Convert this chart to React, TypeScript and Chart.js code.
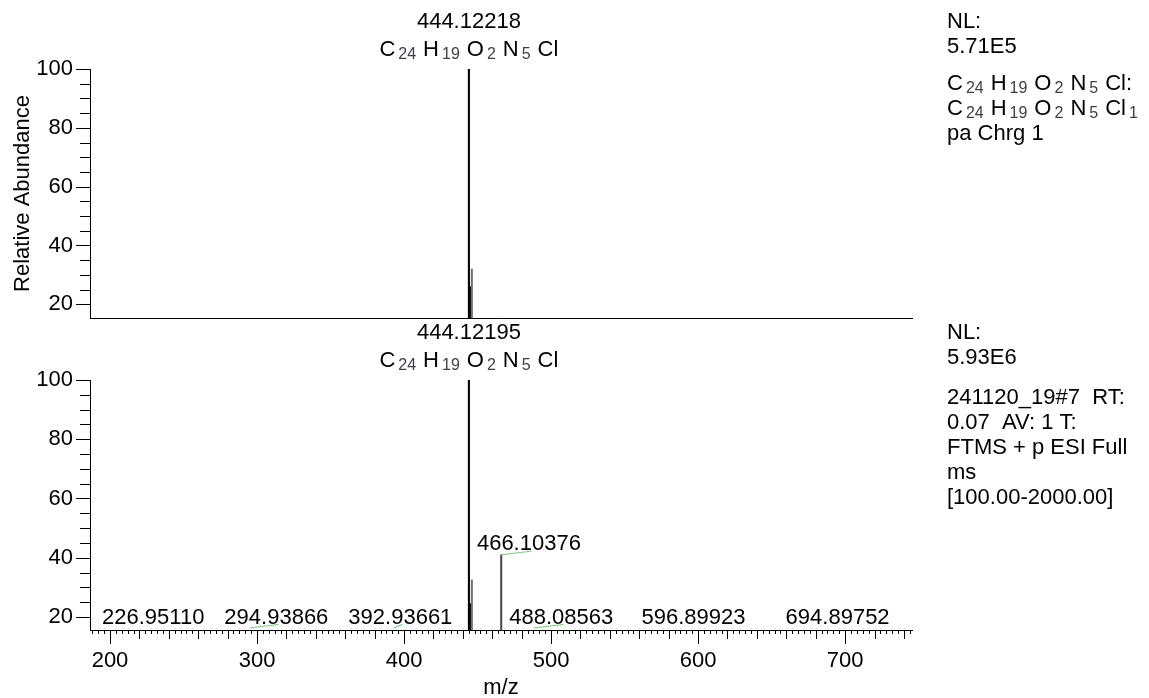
import React, { useEffect, useRef } from "react";
import { Chart, registerables } from "chart.js";

Chart.register(...registerables);

const W = 1149;
const H = 698;
const FONT = '"Liberation Sans", Arial, Helvetica, sans-serif';

// ---------------- data ----------------
const formula = "C24H19O2N5Cl";

// top panel: simulated isotope pattern of C24H19O2N5Cl
const topMz = [444.12218, 445.12554, 446.11923];
const topAbundance = [100, 26, 32];
const topBaseLabel = "444.12218";

// bottom panel: measured spectrum
const bottomMz = [226.9511, 294.93866, 392.93661, 444.12195, 445.1253, 446.119, 466.10376, 488.08563, 596.89923, 694.89752];
const bottomAbundance = [2.1, 2.4, 1.9, 100, 24.5, 32.5, 41, 2.8, 1.6, 1.3];
const bottomPeakLabels = ["226.95110", "294.93866", "392.93661", "", "", "", "466.10376", "488.08563", "596.89923", "694.89752"];
const bottomBaseLabel = "444.12195";

const xTickValues = [200, 300, 400, 500, 600, 700];
const yTickValues = [20, 40, 60, 80, 100];
const xRange = [186.4, 745.5];
const topYRange = [15.35, 100];
const bottomYRange = [15.6, 100];

type InfoLine = { text?: string; formula?: string; suffix?: string };
const topInfo: InfoLine[] = [
  { text: "NL:" },
  { text: "5.71E5" },
  { formula: "C24H19O2N5Cl", suffix: ":" },
  { formula: "C24H19O2N5Cl1" },
  { text: "pa Chrg 1" },
];
const bottomInfo: InfoLine[] = [
  { text: "NL:" },
  { text: "5.93E6" },
  { text: "241120_19#7  RT:" },
  { text: "0.07  AV: 1 T:" },
  { text: "FTMS + p ESI Full" },
  { text: "ms" },
  { text: "[100.00-2000.00]" },
];

// ---------------- styling / layout ----------------
const topColors = ["#000000", "#000000", "#707070"];
const bottomColors = ["#000", "#000", "#000", "#000000", "#000000", "#707070", "#4a4a4a", "#000", "#000", "#000"];
const topInfoBaselines = [28, 53, 90, 115, 140];
const bottomInfoBaselines = [339, 364, 404, 429, 454, 479, 504];
const INFO_X = 947;
const GREEN = "#7cc97c";

function parseFormula(f: string) {
  const parts: { el: string; n: string }[] = [];
  const re = /([A-Z][a-z]?)(\d*)/g;
  let m: RegExpExecArray | null;
  while ((m = re.exec(f)) !== null) {
    if (!m[0]) break;
    parts.push({ el: m[1], n: m[2] });
  }
  return parts;
}

function drawFormula(
  ctx: CanvasRenderingContext2D,
  f: string,
  x: number,
  baseline: number,
  align: "center" | "left",
  suffix = ""
) {
  const parts = parseFormula(f);
  const mainFont = `22px ${FONT}`;
  const subFont = `16px ${FONT}`;
  const SUB_GAP = 3;
  const GROUP_GAP = 7;
  const ws = parts.map((p) => {
    ctx.font = mainFont;
    const a = ctx.measureText(p.el).width;
    ctx.font = subFont;
    const b = p.n ? ctx.measureText(p.n).width : 0;
    return { a, b };
  });
  ctx.font = mainFont;
  const sw = suffix ? ctx.measureText(suffix).width : 0;
  let total = sw;
  ws.forEach((w, i) => {
    total += w.a + (w.b ? SUB_GAP + w.b : 0) + (i < ws.length - 1 ? GROUP_GAP : 0);
  });
  let cx = align === "center" ? x - total / 2 : x;
  ctx.textAlign = "left";
  ctx.textBaseline = "alphabetic";
  parts.forEach((p, i) => {
    ctx.font = mainFont;
    ctx.fillStyle = "#000";
    ctx.fillText(p.el, cx, baseline);
    cx += ws[i].a;
    if (p.n) {
      cx += SUB_GAP;
      ctx.font = subFont;
      ctx.fillStyle = "#3a3f4a";
      ctx.fillText(p.n, cx, baseline + 3);
      cx += ws[i].b;
    }
    if (i === parts.length - 1 && suffix) {
      ctx.font = mainFont;
      ctx.fillStyle = "#000";
      ctx.fillText(suffix, cx, baseline);
      cx += sw;
    }
    if (i < parts.length - 1) cx += GROUP_GAP;
  });
}

function drawInfo(ctx: CanvasRenderingContext2D, lines: InfoLine[], baselines: number[]) {
  lines.forEach((ln, i) => {
    if (ln.formula) {
      drawFormula(ctx, ln.formula, INFO_X, baselines[i], "left", ln.suffix || "");
    } else {
      ctx.font = `22px ${FONT}`;
      ctx.fillStyle = "#000";
      ctx.textAlign = "left";
      ctx.textBaseline = "alphabetic";
      ctx.fillText(ln.text || "", INFO_X, baselines[i]);
    }
  });
}

const tickMarks = {
  id: "tickMarks",
  afterDraw(chart: any, _args: any, opts: any) {
    const { ctx, chartArea: a, scales } = chart;
    const x = scales.x;
    const y = scales.y;
    ctx.save();
    ctx.strokeStyle = "#000";
    ctx.lineWidth = 1;
    ctx.beginPath();
    for (let v = Math.ceil(y.min / 5) * 5; v <= y.max + 1e-6; v += 5) {
      const py = Math.round(y.getPixelForValue(v)) + 0.5;
      const len = v % 20 === 0 ? 14 : 10;
      ctx.moveTo(a.left - len, py);
      ctx.lineTo(a.left, py);
    }
    if (opts && opts.xTicks) {
      for (let v = Math.ceil(x.min / 4) * 4; v <= x.max + 1e-6; v += 4) {
        const px = Math.round(x.getPixelForValue(v)) + 0.5;
        const len = v % 100 === 0 ? 14 : v % 20 === 0 ? 9 : 4;
        ctx.moveTo(px, a.bottom);
        ctx.lineTo(px, a.bottom + len);
      }
    }
    ctx.stroke();
    ctx.restore();
  },
};

function makeAnnotations(
  mz: number[],
  ab: number[],
  baseLabel: string,
  info: InfoLine[],
  infoBaselines: number[],
  peakLabels: string[] | null,
  isBottom: boolean
) {
  return {
    id: "annotations",
    afterDraw(chart: any) {
      const { ctx, chartArea: a, scales } = chart;
      const xs = scales.x;
      const ys = scales.y;
      ctx.save();
      // base peak label + formula
      let bi = 0;
      ab.forEach((v, i) => {
        if (v > ab[bi]) bi = i;
      });
      const bpx = xs.getPixelForValue(mz[bi]);
      const bpy = ys.getPixelForValue(ab[bi]);
      ctx.font = `22px ${FONT}`;
      ctx.fillStyle = "#000";
      ctx.textAlign = "center";
      ctx.textBaseline = "alphabetic";
      ctx.fillText(baseLabel, bpx, bpy - 41);
      drawFormula(ctx, formula, bpx, bpy - 13, "center");

      // small peak labels
      if (peakLabels) {
        const lines = mz.map((m, i) => ({
          px: xs.getPixelForValue(m),
          top: Math.min(ys.getPixelForValue(ab[i]), a.bottom + 5),
        }));
        const placed: { l: number; r: number; t: number; b: number }[] = [];
        ctx.font = `22px ${FONT}`;
        peakLabels.forEach((txt, i) => {
          if (!txt) return;
          const px = lines[i].px;
          const py = Math.min(ys.getPixelForValue(ab[i]), a.bottom - 2);
          const base = py - 4.5;
          const w = ctx.measureText(txt).width;
          const t = base - 17;
          const b = base + 3;
          let l = Math.max(px - w / 2, a.left + 12);
          for (let it = 0; it < 20; it++) {
            let moved = false;
            for (const p of placed) {
              if (!(b < p.t || t > p.b) && l < p.r + 20 && l + w > p.l - 20) {
                l = p.r + 20;
                moved = true;
              }
            }
            lines.forEach((ln, j) => {
              if (j === i) return;
              if (ln.top < b && ln.px > l - 8 + 0.01 && ln.px < l + w + 8) {
                l = ln.px + 8;
                moved = true;
              }
            });
            if (!moved) break;
          }
          placed.push({ l, r: l + w, t, b });
          const cx = l + w / 2;
          if (Math.abs(cx - px) > 4) {
            ctx.strokeStyle = GREEN;
            ctx.lineWidth = 1.2;
            ctx.beginPath();
            ctx.moveTo(px, py);
            ctx.lineTo(cx + 2, base + 1);
            ctx.stroke();
          }
          ctx.fillStyle = "#000";
          ctx.textAlign = "left";
          ctx.textBaseline = "alphabetic";
          ctx.fillText(txt, l, base);
        });
      }

      // axis titles
      ctx.fillStyle = "#000";
      ctx.font = `22px ${FONT}`;
      ctx.textAlign = "center";
      if (isBottom) {
        ctx.textBaseline = "alphabetic";
        ctx.fillText("m/z", (a.left + a.right) / 2, 694);
      } else {
        ctx.save();
        ctx.translate(22.5, (a.top + a.bottom) / 2);
        ctx.rotate(-Math.PI / 2);
        ctx.textBaseline = "middle";
        ctx.fillText("Relative Abundance", 0, 0);
        ctx.restore();
      }

      drawInfo(ctx, info, infoBaselines);
      ctx.restore();
    },
  };
}

function makeConfig(
  mz: number[],
  ab: number[],
  colors: string[],
  yRange: number[],
  isBottom: boolean,
  annot: any
): any {
  return {
    type: "bar",
    data: {
      datasets: [
        {
          data: mz.map((m, i) => ({ x: m, y: ab[i] })),
          backgroundColor: colors,
          borderWidth: 0,
          barThickness: 1.4,
          grouped: false,
        },
      ],
    },
    options: {
      responsive: false,
      animation: false,
      devicePixelRatio: 1,
      events: [],
      layout: {
        padding: isBottom
          ? { top: 380, left: 0, right: W - 912, bottom: 0 }
          : { top: 69, left: 0, right: W - 912, bottom: H - 318 - 10 },
      },
      plugins: {
        legend: { display: false },
        tooltip: { enabled: false },
        title: { display: false },
        tickMarks: { xTicks: isBottom },
      },
      scales: {
        x: {
          type: "linear",
          min: xRange[0],
          max: xRange[1],
          offset: false,
          grid: { display: false, drawTicks: false },
          border: { display: true, color: "#000", width: 1 },
          ticks: {
            display: isBottom,
            color: "#000",
            font: { family: FONT, size: 22 },
            padding: 18,
            maxRotation: 0,
            autoSkip: false,
          },
          afterBuildTicks: (s: any) => {
            s.ticks = xTickValues.map((v) => ({ value: v }));
          },
          afterFit: (s: any) => {
            s.height = isBottom ? H - 630 : 10;
          },
        },
        y: {
          type: "linear",
          min: yRange[0],
          max: yRange[1],
          grid: { display: false, drawTicks: false },
          border: { display: true, color: "#000", width: 1 },
          ticks: {
            color: "#000",
            font: { family: FONT, size: 22 },
            padding: 17,
          },
          afterBuildTicks: (s: any) => {
            s.ticks = yTickValues.map((v) => ({ value: v }));
          },
          afterFit: (s: any) => {
            s.width = 90;
          },
        },
      },
    },
    plugins: [tickMarks, annot],
  };
}

export default function App() {
  const topRef = useRef<HTMLCanvasElement>(null);
  const botRef = useRef<HTMLCanvasElement>(null);

  useEffect(() => {
    const c1 = new Chart(
      topRef.current as HTMLCanvasElement,
      makeConfig(
        topMz,
        topAbundance,
        topColors,
        topYRange,
        false,
        makeAnnotations(topMz, topAbundance, topBaseLabel, topInfo, topInfoBaselines, null, false)
      )
    );
    const c2 = new Chart(
      botRef.current as HTMLCanvasElement,
      makeConfig(
        bottomMz,
        bottomAbundance,
        bottomColors,
        bottomYRange,
        true,
        makeAnnotations(bottomMz, bottomAbundance, bottomBaseLabel, bottomInfo, bottomInfoBaselines, bottomPeakLabels, true)
      )
    );
    return () => {
      c1.destroy();
      c2.destroy();
    };
  }, []);

  return (
    <div style={{ position: "absolute", left: 0, top: 0, width: W, height: H, background: "#fff", overflow: "hidden" }}>
      <canvas ref={topRef} width={W} height={H} style={{ position: "absolute", left: 0, top: 0 }} />
      <canvas ref={botRef} width={W} height={H} style={{ position: "absolute", left: 0, top: 0 }} />
    </div>
  );
}
